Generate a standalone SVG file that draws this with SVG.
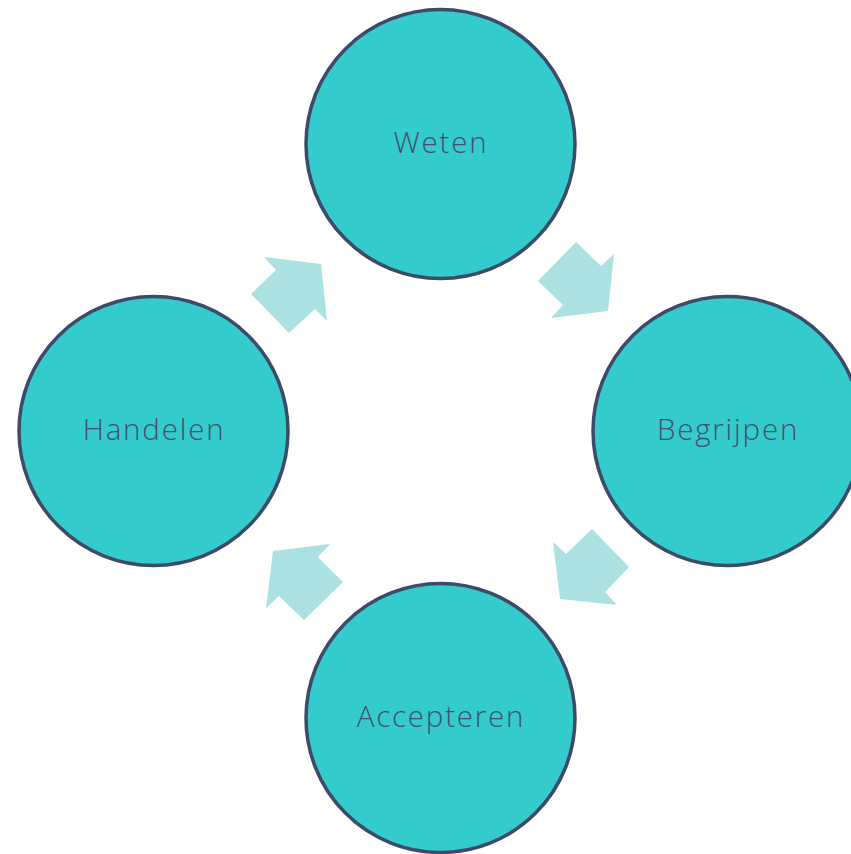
<svg xmlns="http://www.w3.org/2000/svg" width="851" height="854" viewBox="0 0 851 854">
<style>
.n{fill:#34CBCC;stroke:#3D4A68;stroke-width:3.5}
.t{font-family:"Open Sans",Lato,sans-serif;font-weight:300;font-size:29.5px;letter-spacing:1.8px;fill:#44506E;text-anchor:middle}
.a{fill:#ABE1E1}
</style>
<rect width="851" height="854" fill="#fff"/>
<g id="connectors">
<polygon class="a" points="264,257 321,264 327,321 315,309 289,333 251,294 276,270"/>
<polygon class="a" points="576,242 601,266 614,254 608,311 551,318 563,305 538,281"/>
<polygon class="a" points="592,529 629,567 605,592 617,605 560,599 553,542 566,554"/>
<polygon class="a" points="273,551 330,544 318,557 343,582 304,620 279,596 266,608"/>
</g>
<g id="weten"><circle class="n" cx="440.5" cy="144" r="134.5"/><text class="t" x="441" y="153">Weten</text></g>
<g id="begrijpen"><circle class="n" cx="727.5" cy="431" r="134.5"/><text class="t" x="728" y="440">Begrijpen</text></g>
<g id="accepteren"><circle class="n" cx="440.5" cy="718" r="134.5"/><text class="t" x="441" y="727">Accepteren</text></g>
<g id="handelen"><circle class="n" cx="153.5" cy="431" r="134.5"/><text class="t" x="154" y="440">Handelen</text></g>
</svg>
